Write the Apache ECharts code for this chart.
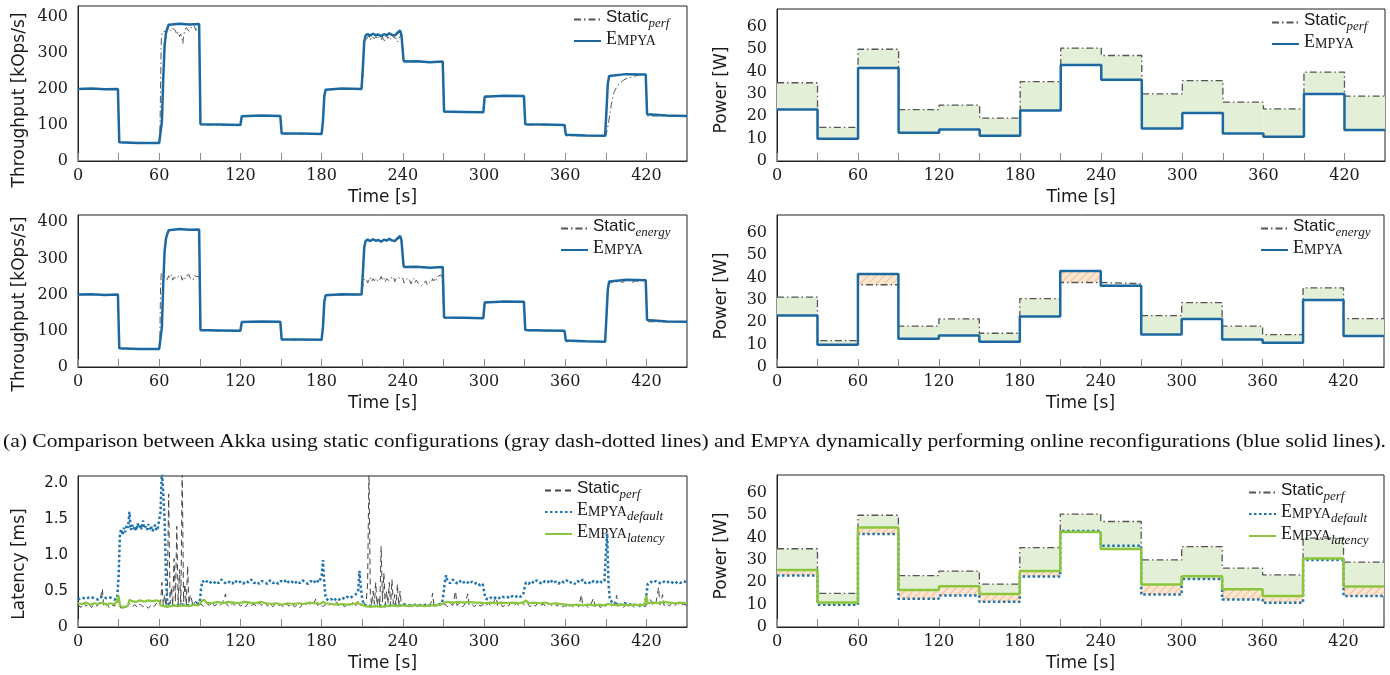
<!DOCTYPE html>
<html><head><meta charset="utf-8">
<script src="https://cdn.jsdelivr.net/npm/echarts@6/dist/echarts.min.js"></script>
<style>
html,body{margin:0;padding:0;background:#fff;}
#chart{position:absolute;left:0;top:0;width:1390px;height:675px;}
#caption{position:absolute;left:3px;top:430px;font-family:"Liberation Serif";font-size:18px;line-height:22px;white-space:nowrap;transform-origin:0 0;color:#111;}
</style></head><body>
<div id="chart"></div>
<div id="caption">(a) Comparison between Akka using static configurations (gray dash-dotted lines) and E<span style="font-size:14px">MPYA</span> dynamically performing online reconfigurations (blue solid lines).</div>
<script>
// ---------------- DATA ----------------
const segmentStarts = [0,30,60,90,120,150,180,210,240,270,300,330,360,390,420];
const segmentEnd = 450;
const staticPerfPower   = [35, 15, 50, 23, 25, 19.2, 35.5, 50.5, 47.2, 30, 36, 26.3, 23.3, 39.8, 29];
const empyaPower        = [23, 10, 41.6, 12.6, 14.1, 11.3, 22.6, 43, 36.4, 14.5, 21.5, 12.3, 10.9, 30, 13.9];
const staticEnergyPower = [31.3, 11.8, 36.8, 18.3, 21.5, 15.1, 30.6, 37.8, 37.3, 23, 28.8, 18.3, 14.5, 35.4, 21.6];
const empyaLatencyPower = [25.5, 11, 44.5, 16.6, 18.2, 14.8, 25, 42.5, 34.9, 19, 22.7, 16.9, 13.9, 30.7, 18.1];

const empyaThroughput = [[0,200],[10,201],[20,199],[29.5,200],[30.5,52],[31,50],[45,50],[60,50],[61,55],[62,110],[63,230],[64,320],[65,355],[66,368],[67,378],[68,380],[75,381],[82,379],[89.5,380],[90.5,102],[91,100],[105,101],[120,100],[121,124],[122,125],[135,126],[149.5,125],[150.5,76],[151,75],[165,76],[180,75],[181,110],[182,180],[183,198],[184,200],[195,201],[209.5,200],[210.5,260],[211.5,330],[212.5,348],[214,352],[216,348],[218,353],[220,349],[222,351],[224,346],[226,352],[228,349],[230,354],[232,350],[234,348],[236,355],[237,350],[238,362],[239,350],[239.8,352],[240.5,282],[241,276],[250,277],[260,274],[269.5,276],[270.5,137],[271,135],[285,136],[299.5,135],[300.5,178],[301,180],[315,181],[329.5,180],[330.5,102],[331,100],[345,101],[359.5,100],[360.5,73],[361.5,70],[375,71],[389.5,70],[390.5,140],[391.5,215],[392.5,236],[393.5,240],[405,241],[419.5,240],[420.5,130],[421,125],[435,126],[450,125]];

const staticPerfThroughput = [[0,200],[29.5,200],[30.5,50],[60,50],[60.5,70],[61,200],[61.5,330],[62,352],[63,360],[64,365],[65,358],[66,362],[67,370],[68,366],[69,360],[70,368],[71,372],[72,362],[73,350],[74,358],[75,345],[76,352],[77,335],[77.5,326],[78,348],[79,362],[80,370],[81,366],[82,360],[83,365],[84,372],[85,368],[86,375],[87,362],[88,372],[89,368],[89.5,375],[90.5,100],[120,100],[121,125],[149.5,125],[150.5,75],[180,75],[181,110],[182,180],[183,198],[184,200],[209.5,200],[210.5,230],[211,335],[212,345],[213,338],[214,342],[215,348],[216,335],[217,345],[218,350],[219,340],[220,346],[221,338],[222,344],[223,349],[224,336],[225,345],[226,330],[227,342],[228,348],[229,340],[230,346],[231,338],[232,350],[233,344],[234,347],[235,340],[236,330],[237,325],[238,345],[239,352],[239.8,350],[240.5,278],[241,275],[269.5,275],[270.5,135],[299.5,135],[300.5,180],[329.5,180],[330.5,100],[359.5,100],[360.5,70],[390,70],[391,85],[392,105],[393,130],[394,155],[395,175],[396,190],[398,205],[400,215],[403,224],[406,230],[410,234],[414,238],[418,240],[419.5,240],[420.5,125],[450,125]];

const staticEnergyThroughput = [[0,200],[29.5,200],[30.5,50],[60,50],[60.5,80],[61,220],[61.5,258],[63,255],[64,245],[65,250],[66,242],[67,252],[68,246],[69,255],[70,240],[71,248],[72,252],[73,244],[74,250],[75,246],[76,254],[77,240],[78,250],[79,244],[80,252],[81,248],[82,255],[83,245],[84,250],[85,240],[86,252],[87,248],[88,250],[89,245],[89.5,250],[90.5,100],[120,100],[121,125],[149.5,125],[150.5,75],[180,75],[181,110],[182,180],[183,198],[184,200],[209.5,200],[210.5,225],[211,240],[212,236],[213,244],[214,232],[215,240],[216,248],[217,236],[218,244],[219,238],[220,245],[221,248],[222,236],[223,242],[224,250],[225,240],[226,246],[227,235],[228,244],[229,248],[230,238],[231,245],[232,240],[233,250],[234,236],[235,244],[236,240],[237,248],[238,242],[239,238],[240,245],[241,232],[242,240],[243,236],[244,246],[245,240],[246,230],[247,238],[248,245],[249,234],[250,240],[251,236],[252,228],[253,232],[254,225],[255,220],[256,232],[257,238],[258,228],[259,236],[260,240],[261,232],[262,244],[263,238],[264,246],[265,240],[266,250],[267,245],[268,255],[269,248],[269.5,252],[270.5,135],[299.5,135],[300.5,180],[329.5,180],[330.5,100],[359.5,100],[360.5,70],[389.5,70],[390.5,150],[391.5,225],[392.5,235],[394,232],[396,238],[398,235],[400,240],[402,233],[404,238],[406,236],[408,241],[410,234],[412,238],[414,236],[416,240],[418,237],[419.5,240],[420.5,125],[450,125]];

const staticPerfLatency = [[0,0.31],[2,0.27],[4,0.34],[6,0.29],[8,0.33],[10,0.27],[12,0.32],[14,0.29],[16,0.35],[18,0.53],[19,0.29],[21,0.33],[23,0.27],[25,0.31],[27,0.29],[29,0.4],[30,0.3],[32,0.26],[34,0.3],[36,0.27],[38,0.33],[40,0.28],[42,0.31],[44,0.27],[46,0.32],[48,0.28],[50,0.3],[52,0.26],[54,0.31],[56,0.28],[58,0.33],[60,0.29],[61,0.32],[62,0.62],[63,0.3],[64,0.45],[65,0.28],[66,0.5],[67,1.85],[68,0.32],[69,0.55],[70,0.3],[71,0.95],[72,0.35],[73,1.4],[74,0.32],[75,0.8],[76,0.3],[77,2.2],[78,0.35],[79,0.6],[80,0.3],[81,0.85],[82,0.32],[83,0.45],[85,0.3],[87,0.36],[89,0.29],[91,0.32],[93,0.28],[95,0.33],[97,0.3],[99,0.34],[101,0.29],[103,0.33],[105,0.3],[107,0.35],[109,0.46],[110,0.31],[112,0.28],[114,0.33],[116,0.3],[118,0.34],[120,0.29],[122,0.32],[124,0.28],[126,0.34],[128,0.3],[130,0.32],[132,0.28],[134,0.33],[136,0.3],[138,0.35],[140,0.29],[142,0.32],[144,0.28],[146,0.33],[148,0.3],[150,0.31],[152,0.27],[154,0.32],[156,0.29],[158,0.33],[160,0.28],[162,0.31],[164,0.27],[166,0.32],[168,0.29],[170,0.34],[172,0.3],[174,0.32],[176,0.4],[177,0.3],[179,0.33],[181,0.28],[183,0.32],[185,0.29],[187,0.33],[189,0.3],[191,0.35],[193,0.29],[195,0.32],[197,0.28],[199,0.33],[201,0.3],[203,0.34],[205,0.29],[207,0.36],[209,0.3],[211,0.32],[213,0.35],[214,0.6],[215,2.2],[216,0.45],[217,0.3],[218,0.5],[219,0.32],[220,0.62],[221,0.3],[222,0.42],[223,0.3],[224,1.12],[225,0.35],[226,0.75],[227,0.3],[228,0.5],[229,0.32],[230,0.62],[231,0.3],[232,0.66],[233,0.32],[234,0.45],[235,0.3],[236,0.6],[237,0.28],[238,0.5],[239,0.3],[241,0.33],[243,0.28],[245,0.32],[247,0.27],[249,0.31],[251,0.28],[253,0.33],[255,0.29],[257,0.32],[259,0.28],[261,0.34],[262,0.47],[263,0.3],[265,0.28],[267,0.33],[269,0.29],[271,0.32],[273,0.28],[275,0.33],[277,0.3],[279,0.5],[280,0.3],[282,0.33],[284,0.28],[286,0.32],[288,0.46],[289,0.3],[291,0.32],[293,0.28],[295,0.33],[297,0.29],[299,0.31],[301,0.28],[303,0.33],[305,0.3],[307,0.34],[309,0.42],[310,0.3],[312,0.33],[314,0.28],[316,0.32],[318,0.29],[320,0.34],[322,0.3],[324,0.33],[326,0.29],[328,0.35],[330,0.3],[332,0.33],[334,0.28],[336,0.32],[338,0.29],[340,0.34],[342,0.3],[344,0.32],[346,0.28],[348,0.33],[350,0.3],[352,0.34],[354,0.29],[356,0.32],[358,0.28],[360,0.3],[362,0.26],[364,0.31],[366,0.27],[368,0.32],[370,0.28],[372,0.45],[373,0.29],[375,0.31],[377,0.27],[379,0.32],[381,0.4],[382,0.28],[384,0.31],[386,0.27],[388,0.32],[390,0.29],[392,0.33],[394,0.28],[396,0.32],[398,0.44],[399,0.29],[401,0.31],[403,0.27],[405,0.32],[407,0.28],[409,0.31],[411,0.27],[413,0.32],[415,0.28],[417,0.31],[419,0.28],[421,0.33],[423,0.38],[425,0.3],[427,0.33],[429,0.55],[430,0.31],[432,0.45],[433,0.3],[435,0.33],[437,0.29],[439,0.34],[441,0.3],[443,0.33],[445,0.29],[447,0.32],[450,0.3]];

const empyaDefaultLatency = [[0,0.38],[3,0.41],[6,0.39],[9,0.42],[12,0.4],[15,0.38],[18,0.43],[21,0.4],[24,0.41],[27,0.38],[29,0.4],[30,0.7],[31,1.3],[32,1.36],[33,1.28],[34,1.38],[35,1.32],[36,1.42],[37,1.38],[38,1.6],[39,1.35],[40,1.42],[41,1.36],[42,1.4],[43,1.34],[44,1.44],[45,1.38],[46,1.42],[47,1.36],[48,1.48],[49,1.37],[50,1.4],[51,1.35],[52,1.43],[53,1.36],[54,1.4],[55,1.33],[56,1.38],[57,1.42],[58,1.34],[59,1.38],[60,1.36],[61,1.6],[62,2.2],[63,2.2],[64,1.5],[65,0.7],[66,0.33],[68,0.31],[72,0.3],[76,0.32],[80,0.3],[84,0.31],[88,0.32],[90,0.34],[91,0.55],[92,0.64],[94,0.61],[96,0.65],[98,0.62],[100,0.6],[102,0.64],[104,0.61],[106,0.66],[108,0.62],[110,0.6],[112,0.63],[114,0.6],[116,0.65],[118,0.61],[120,0.63],[122,0.6],[124,0.64],[126,0.62],[128,0.66],[130,0.61],[132,0.63],[134,0.6],[136,0.64],[138,0.62],[140,0.6],[142,0.65],[144,0.61],[146,0.63],[148,0.6],[150,0.64],[152,0.62],[154,0.66],[156,0.61],[158,0.63],[160,0.6],[162,0.64],[164,0.61],[166,0.65],[168,0.62],[170,0.6],[172,0.64],[174,0.61],[176,0.66],[178,0.62],[180,0.7],[181,0.93],[182,0.6],[183,0.4],[185,0.37],[187,0.39],[189,0.36],[191,0.4],[193,0.38],[195,0.41],[197,0.39],[199,0.42],[201,0.4],[203,0.43],[205,0.45],[207,0.5],[208,0.78],[209,0.55],[210,0.4],[211,0.31],[214,0.3],[218,0.29],[222,0.3],[226,0.29],[230,0.3],[234,0.31],[238,0.3],[242,0.31],[246,0.3],[250,0.31],[254,0.3],[258,0.31],[262,0.3],[266,0.31],[269,0.33],[270,0.45],[271,0.62],[272,0.72],[273,0.64],[275,0.61],[277,0.66],[279,0.62],[281,0.6],[283,0.65],[285,0.62],[287,0.64],[289,0.6],[291,0.63],[293,0.6],[295,0.62],[297,0.58],[299,0.6],[300,0.5],[301,0.4],[303,0.38],[305,0.41],[307,0.39],[309,0.42],[311,0.4],[313,0.43],[315,0.41],[317,0.42],[319,0.4],[321,0.43],[323,0.41],[325,0.44],[327,0.42],[329,0.45],[330,0.55],[331,0.62],[333,0.6],[335,0.64],[337,0.61],[339,0.65],[341,0.62],[343,0.6],[345,0.64],[347,0.62],[349,0.66],[351,0.61],[353,0.63],[355,0.6],[357,0.64],[359,0.62],[361,0.65],[363,0.61],[365,0.63],[367,0.6],[369,0.64],[371,0.62],[373,0.66],[375,0.61],[377,0.63],[379,0.6],[381,0.64],[383,0.62],[385,0.65],[387,0.62],[389,0.64],[390,1.0],[391,1.3],[392,0.6],[393,0.38],[395,0.34],[398,0.32],[401,0.31],[404,0.33],[407,0.31],[410,0.32],[413,0.3],[416,0.31],[419,0.32],[420,0.45],[421,0.6],[423,0.63],[425,0.61],[427,0.64],[429,0.62],[431,0.6],[433,0.63],[435,0.61],[437,0.64],[439,0.62],[441,0.6],[443,0.63],[445,0.61],[447,0.64],[450,0.62]];

const empyaLatencyLatency = [[0,0.33],[3,0.32],[6,0.34],[9,0.31],[12,0.33],[15,0.32],[18,0.34],[21,0.31],[24,0.33],[27,0.32],[29,0.36],[30,0.44],[31,0.3],[33,0.27],[35,0.28],[37,0.3],[38,0.38],[40,0.36],[43,0.35],[46,0.37],[49,0.35],[52,0.37],[55,0.36],[58,0.37],[60,0.36],[61,0.3],[63,0.29],[66,0.28],[70,0.3],[74,0.29],[78,0.3],[82,0.29],[86,0.31],[89,0.3],[91,0.35],[93,0.38],[95,0.34],[99,0.33],[103,0.35],[107,0.33],[111,0.35],[115,0.34],[119,0.33],[123,0.35],[127,0.34],[131,0.33],[135,0.35],[139,0.33],[143,0.32],[147,0.33],[151,0.31],[155,0.33],[159,0.32],[163,0.33],[167,0.32],[171,0.34],[175,0.33],[179,0.32],[181,0.35],[183,0.33],[187,0.32],[191,0.31],[195,0.32],[199,0.31],[203,0.32],[207,0.33],[210,0.31],[212,0.29],[216,0.28],[220,0.29],[224,0.28],[228,0.29],[232,0.3],[236,0.29],[240,0.3],[244,0.29],[248,0.3],[252,0.3],[256,0.29],[260,0.3],[264,0.3],[268,0.31],[270,0.33],[273,0.35],[277,0.34],[281,0.35],[285,0.34],[289,0.35],[293,0.34],[297,0.34],[301,0.33],[305,0.34],[309,0.33],[313,0.34],[317,0.33],[321,0.34],[325,0.33],[329,0.34],[331,0.37],[333,0.33],[337,0.34],[341,0.33],[345,0.34],[349,0.32],[353,0.33],[357,0.32],[361,0.31],[365,0.3],[369,0.31],[373,0.3],[377,0.31],[381,0.3],[385,0.31],[389,0.3],[391,0.32],[395,0.31],[399,0.3],[403,0.31],[407,0.3],[411,0.31],[415,0.3],[419,0.31],[420,0.44],[421,0.33],[425,0.34],[429,0.33],[433,0.35],[437,0.34],[441,0.33],[445,0.34],[450,0.33]];

const timeTickLabels = ['0','60','120','180','240','300','360','420'];

// ---------------- STYLE ----------------
const BLUE = '#1c69a2';
const GRAY = '#555555';
const GREEN = '#8cc63e';
const FILL_GREEN = '#e3efd6';
const TXT = '#1a1a1a';

const hatchCanvas = document.createElement('canvas');
hatchCanvas.width = 8; hatchCanvas.height = 8;
(function(){
  const g = hatchCanvas.getContext('2d');
  g.fillStyle = '#fde6d3'; g.fillRect(0,0,8,8);
  g.strokeStyle = '#f8c89e'; g.lineWidth = 1.4;
  g.beginPath();
  g.moveTo(-1,9); g.lineTo(9,-1);
  g.moveTo(-5,5); g.lineTo(5,-5);
  g.moveTo(3,13); g.lineTo(13,3);
  g.stroke();
})();
const HATCH = {image: hatchCanvas, repeat: 'repeat'};

function stepPairs(vals){
  const out = segmentStarts.map((t,i)=>[t, vals[i]]);
  out.push([segmentEnd, vals[vals.length-1]]);
  return out;
}
// rects between a reference and another step series: kind 0 green when ref>other, 1 hatch when other>ref
function diffRects(ref, other, onlyHatch){
  const out = [];
  segmentStarts.forEach((t,i)=>{
    const t1 = i+1 < segmentStarts.length ? segmentStarts[i+1] : segmentEnd;
    const a = ref[i], b = other[i];
    if (a > b && !onlyHatch) out.push([t, t1, b, a, 0]);
    if (b > a) out.push([t, t1, a, b, 1]);
  });
  return out;
}

const grids = [
  {left:78,  top:6,   width:609, height:155},
  {left:777, top:9,   width:608, height:152},
  {left:78,  top:215, width:609, height:152},
  {left:777, top:215, width:607, height:152},
  {left:78,  top:476, width:609, height:151},
  {left:777, top:475, width:607, height:152}
].map(g => Object.assign({show:true, borderColor:'#222', borderWidth:1, backgroundColor:'transparent', containLabel:false, outerBoundsMode:'none'}, g));

function xAx(gi){
  return {type:'value', gridIndex:gi, min:0, max:450, interval:30,
    axisLine:{show:true, lineStyle:{color:'#222', width:1}},
    axisTick:{show:true, inside:true, length:8, lineStyle:{color:'#8a8a8a', width:1}},
    splitLine:{show:false},
    axisLabel:{formatter: v => timeTickLabels.indexOf(String(v)) >= 0 ? String(v) : '', fontFamily:'DejaVu Serif', fontSize:16, color:TXT, margin:7},
    name:'Time [s]', nameLocation:'middle', nameGap:28,
    nameTextStyle:{fontFamily:'DejaVu Sans', fontSize:17, color:TXT}};
}
function yAx(gi, max, interval, fmt){
  return {type:'value', gridIndex:gi, min:0, max:max, interval:interval,
    axisLine:{show:true, lineStyle:{color:'#222', width:1}},
    axisTick:{show:false}, splitLine:{show:false},
    axisLabel:{formatter: fmt || (v => (v % interval === 0) ? String(v) : ''), fontFamily:'DejaVu Serif', fontSize:16, color:TXT, margin:10,
      rich:{r:{fontFamily:'DejaVu Serif', fontSize:16, color:TXT}, s:{fontFamily:'DejaVu Sans', fontSize:15, color:TXT}}}};
}

function line(name, gi, data, color, width, type, z, step){
  const s = {name:name, type:'line', xAxisIndex:gi, yAxisIndex:gi, data:data, symbol:'none', showSymbol:false,
    lineStyle:{color:color, width:width, type:type || 'solid', cap:'butt'}, itemStyle:{color:color}, z:z, animation:false, clip:true};
  if (step) s.step = 'end';
  return s;
}
function fill(gi, rects){
  return {type:'custom', xAxisIndex:gi, yAxisIndex:gi, data:rects, silent:true, z:1, animation:false, clip:true,
    encode:{x:[0,1], y:[2,3]},
    renderItem:(params, api) => {
      const p0 = api.coord([api.value(0), api.value(3)]);
      const p1 = api.coord([api.value(1), api.value(2)]);
      return {type:'rect', shape:{x:p0[0], y:p0[1], width:p1[0]-p0[0], height:p1[1]-p0[1]},
        style:{fill: api.value(4) === 1 ? HATCH : FILL_GREEN}};
    }};
}

const DASHDOT = [7,3,1.5,3];
const legendLabels = {
  s1:'{m|Static}{s|perf}', e1:'{e|E}{c|MPYA}',
  s2:'{m|Static}{s|perf}', e2:'{e|E}{c|MPYA}',
  s3:'{m|Static}{s|energy}', e3:'{e|E}{c|MPYA}',
  s4:'{m|Static}{s|energy}', e4:'{e|E}{c|MPYA}',
  s5:'{m|Static}{s|perf}', d5:'{e|E}{c|MPYA}{s|default}', l5:'{e|E}{c|MPYA}{s|latency}',
  s6:'{m|Static}{s|perf}', d6:'{e|E}{c|MPYA}{s|default}', l6:'{e|E}{c|MPYA}{s|latency}'
};
const rich = {
  m:{fontFamily:'Liberation Sans', fontSize:17, color:TXT, verticalAlign:'bottom', padding:[0,0,4,0]},
  e:{fontFamily:'Liberation Serif', fontSize:18, color:TXT, verticalAlign:'bottom', padding:[0,0,4,0]},
  c:{fontFamily:'Liberation Serif', fontSize:14, color:TXT, verticalAlign:'bottom', padding:[0,0,4,0]},
  s:{fontFamily:'Liberation Serif', fontSize:13, fontStyle:'italic', color:TXT, verticalAlign:'bottom'}
};
function legend(names, left, top){
  return {data:names, left:left, top:top, orient:'vertical', itemWidth:27, itemHeight:12, itemGap:0,
    itemStyle:{opacity:0, color:'transparent', borderColor:'transparent', borderWidth:0},
    formatter: n => legendLabels[n], textStyle:{rich:rich, color:TXT}, selectedMode:false, padding:0, align:'left'};
}

const latFmt = v => {
  if (v === 0) return '{r|0}';
  if (Math.abs(v*2 - Math.round(v*2)) < 1e-6) return '{s|' + v.toFixed(1) + '}';
  return '';
};

const yNames = [
  {t:'Throughput [kOps/s]', x:20, y:100},
  {t:'Power [W]', x:722, y:90},
  {t:'Throughput [kOps/s]', x:20, y:304},
  {t:'Power [W]', x:722, y:296},
  {t:'Latency [ms]', x:20, y:564},
  {t:'Power [W]', x:722, y:556}
];

const option = {
  animation:false,
  grid: grids,
  xAxis: [0,1,2,3,4,5].map(xAx),
  yAxis: [yAx(0,430,100), yAx(1,68,10), yAx(2,420,100), yAx(3,68,10), yAx(4,2.1,0.5,latFmt), yAx(5,68,10)],
  legend: [
    legend(['s1','e1'], 573, 9),
    legend(['s2','e2'], 1271, 12),
    legend(['s3','e3'], 560, 218),
    legend(['s4','e4'], 1260, 218),
    legend(['s5','d5','l5'], 544, 480),
    legend(['s6','d6','l6'], 1248, 482)
  ],
  graphic: yNames.map(n => ({type:'text', x:n.x, y:n.y, rotation:Math.PI/2, silent:true,
    style:{text:n.t, font:'17px "DejaVu Sans"', fill:TXT, align:'center', verticalAlign:'middle'}})),
  series: [
    line('s1', 0, staticPerfThroughput, GRAY, 1, DASHDOT, 2),
    line('e1', 0, empyaThroughput, BLUE, 2.5, 'solid', 3),

    fill(1, diffRects(staticPerfPower, empyaPower)),
    line('s2', 1, stepPairs(staticPerfPower), GRAY, 1.3, DASHDOT, 2, true),
    line('e2', 1, stepPairs(empyaPower), BLUE, 2.5, 'solid', 3, true),

    line('s3', 2, staticEnergyThroughput, GRAY, 1, DASHDOT, 2),
    line('e3', 2, empyaThroughput, BLUE, 2.5, 'solid', 3),

    fill(3, diffRects(staticEnergyPower, empyaPower)),
    line('s4', 3, stepPairs(staticEnergyPower), GRAY, 1.3, DASHDOT, 2, true),
    line('e4', 3, stepPairs(empyaPower), BLUE, 2.5, 'solid', 3, true),

    line('s5', 4, staticPerfLatency, '#444', 1, [6,4], 2),
    line('d5', 4, empyaDefaultLatency, '#1f74b0', 2.5, [2.5,2.5], 3),
    line('l5', 4, empyaLatencyLatency, GREEN, 2.2, 'solid', 4),

    fill(5, diffRects(staticPerfPower, empyaLatencyPower)),
    fill(5, diffRects(empyaPower, empyaLatencyPower, true)),
    line('s6', 5, stepPairs(staticPerfPower), GRAY, 1.3, DASHDOT, 2, true),
    line('d6', 5, stepPairs(empyaPower), '#1f74b0', 2.5, [2.5,2.5], 3, true),
    line('l6', 5, stepPairs(empyaLatencyPower), GREEN, 2.5, 'solid', 4, true)
  ]
};

const chart = echarts.init(document.getElementById('chart'), null, {renderer:'canvas'});
chart.setOption(option);

// stretch caption to the reference width
const cap = document.getElementById('caption');
const w = cap.getBoundingClientRect().width;
cap.style.transform = 'scaleX(' + (1383 / w) + ')';
</script>
</body></html>
